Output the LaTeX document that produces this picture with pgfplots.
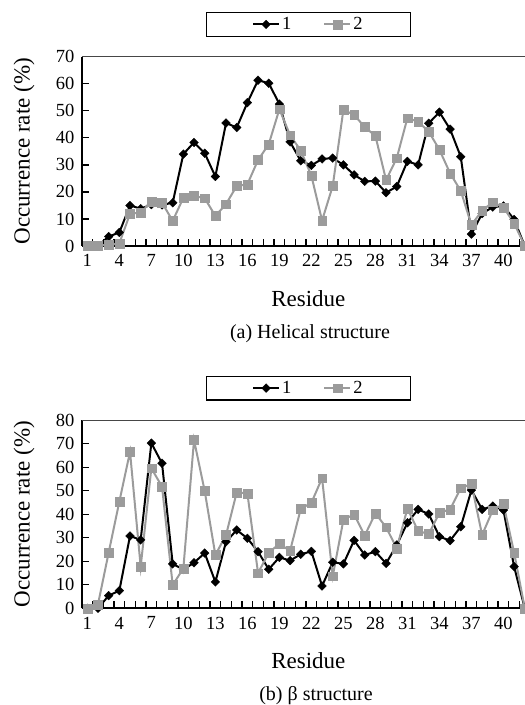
\documentclass[border=0pt]{standalone}
\usepackage{fontspec}
\setmainfont{Liberation Serif}
\usepackage{pgfplots}
\pgfplotsset{compat=1.18}
\definecolor{sgray}{RGB}{155,155,155}
\definecolor{topline}{RGB}{70,70,70}
\pgfplotsset{
  panel/.style={
    scale only axis,
    width=443pt,
    xmin=0.5, xmax=42.02,
    ymin=0,
    clip=false,
    axis x line*=bottom,
    axis y line*=left,
    x axis line style={line width=2pt, -},
    y axis line style={line width=1.3pt, -},
    tick align=inside,
    xtick={1,4,...,40},
    major x tick style={draw=none},
    minor xtick={1.5,2.5,...,41.5},
    minor tick length=7pt,
    major tick length=7pt,
    tick style={black, line width=1.3pt},
    tick label style={font=\fontsize{18.5}{22}\selectfont},
    /pgf/number format/assume math mode=true,
    xticklabel style={yshift=-5pt},
    yticklabel style={xshift=-4pt},
    xlabel={Residue},
    ylabel={Occurrence rate (\%)},
    every axis x label/.style={at={(axis description cs:0.511,0)}, yshift=-52.5pt, anchor=center, font=\fontsize{23}{27}\selectfont},
    every axis y label/.style={at={(axis description cs:0,0.5)}, xshift=-58pt, rotate=90, anchor=center, font=\fontsize{23}{27}\selectfont},
    legend columns=2,
    legend style={at={(0.511,1)}, yshift=44.7pt, anchor=north, draw=black, line width=1.2pt,
      font=\fontsize{18.5}{22}\selectfont, inner xsep=46pt, inner ysep=3pt,
      /tikz/every even column/.append style={column sep=30pt}},
    legend image code/.code={\draw[mark repeat=2, mark phase=2, #1] plot coordinates {(0pt,0pt) (13pt,0pt) (26pt,0pt)};},
  },
  s1/.style={black, line width=2pt, mark=square*, mark size=3.1pt, mark options={rotate=45, solid, fill=black, line width=0.3pt}},
  s2/.style={sgray, line width=2pt, mark=square*, mark size=4.4pt, mark options={solid, fill=sgray, draw=sgray, line width=0.3pt}},
}
\begin{document}
\begin{tikzpicture}
\begin{axis}[panel, at={(82pt,459pt)}, anchor=south west, height=189.3pt, ymax=70, ytick={0,10,...,70}]
\addplot[s1] coordinates {
(1,0) (2,0) (3,3.5) (4,5) (5,15) (6,13.8) (7,15.3) (8,15.2) (9,16) (10,34)
(11,38.3) (12,34.3) (13,25.7) (14,45.5) (15,43.8) (16,53) (17,61.3) (18,60.2) (19,52.5) (20,38.5)
(21,31.5) (22,29.8) (23,32.2) (24,32.5) (25,30) (26,26.3) (27,23.9) (28,24) (29,19.7) (30,22)
(31,31.3) (32,30) (33,45.4) (34,49.5) (35,43.2) (36,33) (37,4.4) (38,12) (39,14.4) (40,14.8)
(41,9.8) (42,0)};
\addlegendentry{1}
\addplot[s2] coordinates {
(1,0) (2,0.2) (3,0.4) (4,1) (5,11.9) (6,12.4) (7,16.4) (8,16) (9,9.3) (10,17.8)
(11,18.5) (12,17.7) (13,11.1) (14,15.5) (15,22.2) (16,22.8) (17,31.8) (18,37.6) (19,50.6) (20,41)
(21,35.3) (22,26) (23,9.4) (24,22.2) (25,50.4) (26,48.5) (27,44) (28,40.7) (29,24.4) (30,32.5)
(31,47.3) (32,46) (33,42.3) (34,35.6) (35,26.9) (36,20.4) (37,7.8) (38,13.1) (39,16.2) (40,14.3)
(41,8.4) (42,0)};
\addlegendentry{2}
\draw[topline, line width=1.3pt] (rel axis cs:0,1) -- (rel axis cs:1,1);
\end{axis}
\begin{axis}[panel, at={(82pt,96.7pt)}, anchor=south west, height=188pt, ymax=80, ytick={0,10,...,80}]
\addplot[s1] coordinates {
(1,0) (2,0) (3,5.4) (4,7.5) (5,30.8) (6,29.1) (7,70.3) (8,61.7) (9,18.9) (10,16.5)
(11,19.4) (12,23.5) (13,11.2) (14,28.3) (15,33.3) (16,29.8) (17,24.1) (18,16.6) (19,21.7) (20,20.3)
(21,23) (22,24.2) (23,9.5) (24,19.6) (25,18.9) (26,28.9) (27,22.7) (28,24.1) (29,19.1) (30,26.9)
(31,36.4) (32,42.1) (33,40.1) (34,30.5) (35,28.8) (36,34.7) (37,50.3) (38,42.1) (39,43.5) (40,41.8)
(41,17.7) (42,0)};
\addlegendentry{1}
\addplot[s2] coordinates {
(1,0) (2,1.7) (3,23.7) (4,45.4) (5,66.6) (6,17.7) (7,59.6) (8,51.8) (9,9.9) (10,17)
(11,71.6) (12,49.9) (13,22.7) (14,31.2) (15,49.3) (16,48.9) (17,15) (18,23.6) (19,27.5) (20,24.4)
(21,42.3) (22,44.9) (23,55.4) (24,13.7) (25,37.6) (26,40) (27,31) (28,40.4) (29,34.5) (30,25.5)
(31,42.5) (32,32.9) (33,31.6) (34,40.7) (35,42.1) (36,51.1) (37,52.9) (38,31.2) (39,41.8) (40,44.4)
(41,23.7) (42,0)};
\addlegendentry{2}
\draw[topline, line width=1.3pt] (rel axis cs:0,1) -- (rel axis cs:1,1);
\end{axis}
\node[font=\fontsize{20}{24}\selectfont] at (310pt,371.5pt) {(a) Helical structure};
\node[font=\fontsize{20}{24}\selectfont] at (316pt,9.2pt) {(b) β structure};
\pgfresetboundingbox
\path[use as bounding box] (0pt,0pt) rectangle (525pt,705pt);
\end{tikzpicture}
\end{document}
